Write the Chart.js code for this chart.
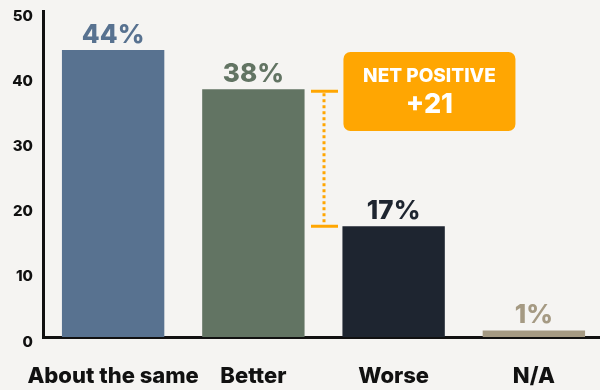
<!DOCTYPE html>
<html>
<head>
<meta charset="utf-8">
<script src="https://cdn.jsdelivr.net/npm/chart.js@4/dist/chart.umd.min.js"></script>
<style>
  html, body { margin: 0; padding: 0; background: #f5f4f2; overflow: hidden; }
  #wrap { width: 604px; height: 390px; }
</style>
</head>
<body>
<div id="wrap"><canvas id="survey-chart"></canvas></div>
<script>
// data
var categories = ['About the same', 'Better', 'Worse', 'N/A'];
var shares = [44, 38, 17, 1];
var barColors = ['#587290', '#627463', '#1e2530', '#a59a83'];
var yMax = 50;
var yStep = 10;
var netTitle = 'NET POSITIVE';

var FONT = 'Inter, "DejaVu Sans", sans-serif';
var ORANGE = '#ffa602';

// percent labels above each bar, same colour as the bar
var valueLabels = {
    id: 'valueLabels',
    afterDatasetsDraw: function (chart) {
        var ctx = chart.ctx;
        var meta = chart.getDatasetMeta(0);
        ctx.save();
        ctx.font = '800 26px ' + FONT;
        ctx.textAlign = 'center';
        ctx.textBaseline = 'alphabetic';
        for (var i = 0; i < meta.data.length; i++) {
            var bar = meta.data[i];
            ctx.fillStyle = barColors[i];
            ctx.fillText(shares[i] + '%', bar.x, bar.y - 7);
        }
        ctx.restore();
    }
};

// dotted bracket between Better and Worse plus the orange callout box
var netBracket = {
    id: 'netBracket',
    afterDatasetsDraw: function (chart) {
        var ctx = chart.ctx;
        var yScale = chart.scales.y;
        var meta = chart.getDatasetMeta(0);
        var better = meta.data[1];
        var worse = meta.data[2];
        var x = Math.round((better.x + better.width / 2 + worse.x - worse.width / 2) / 2);
        var yTop = yScale.getPixelForValue(shares[1]);
        var yBot = yScale.getPixelForValue(shares[2]);

        ctx.save();
        ctx.strokeStyle = ORANGE;
        ctx.lineWidth = 3;
        ctx.setLineDash([3, 3]);
        ctx.beginPath();
        ctx.moveTo(x, yTop + 4);
        ctx.lineTo(x, yBot - 2);
        ctx.stroke();
        ctx.setLineDash([]);
        ctx.beginPath();
        ctx.moveTo(x - 13, yTop + 2);
        ctx.lineTo(x + 14, yTop + 2);
        ctx.moveTo(x - 13, yBot);
        ctx.lineTo(x + 14, yBot);
        ctx.stroke();

        // callout box
        var bx = worse.x - worse.width / 2 + 1;
        var by = 52;
        var bw = 172;
        var bh = 79;
        ctx.fillStyle = ORANGE;
        ctx.beginPath();
        ctx.roundRect(bx, by, bw, bh, 7);
        ctx.fill();

        ctx.fillStyle = '#ffffff';
        ctx.textAlign = 'center';
        ctx.textBaseline = 'middle';
        ctx.font = '800 19px ' + FONT;
        ctx.fillText(netTitle, bx + bw / 2, by + 24);
        ctx.font = '800 27px ' + FONT;
        ctx.fillText('+' + (shares[1] - shares[2]), bx + bw / 2, by + 53);
        ctx.restore();
    }
};

var ctx = document.getElementById('survey-chart');

var surveyChart = new Chart(ctx, {
    type: 'bar',
    data: {
        labels: categories,
        datasets: [{
            data: shares,
            backgroundColor: barColors,
            borderWidth: 0,
            categoryPercentage: 1,
            barPercentage: 0.73
        }]
    },
    options: {
        responsive: true,
        maintainAspectRatio: false,
        animation: false,
        events: [],
        layout: { padding: { top: 11, right: 0, bottom: 0, left: 0 } },
        plugins: {
            legend: { display: false },
            tooltip: { enabled: false }
        },
        scales: {
            x: {
                grid: { display: false, drawTicks: false },
                border: { display: true, color: '#111111', width: 3 },
                ticks: {
                    color: '#111111',
                    font: { family: FONT, size: 22, weight: '800' },
                    padding: 26,
                    maxRotation: 0,
                    autoSkip: false
                },
                afterFit: function (scale) {
                    scale.height = 53;
                    scale.paddingLeft = 0;
                    scale.paddingRight = 0;
                }
            },
            y: {
                min: 0,
                max: yMax,
                grid: { display: false, drawTicks: false },
                border: { display: true, color: '#111111', width: 3 },
                ticks: {
                    stepSize: yStep,
                    color: '#111111',
                    font: { family: FONT, size: 15, weight: '800' },
                    padding: 10,
                    labelOffset: 5
                },
                afterFit: function (scale) {
                    scale.width = 43;
                    scale.paddingTop = 0;
                    scale.paddingBottom = 0;
                }
            }
        }
    },
    plugins: [valueLabels, netBracket]
});
</script>
</body>
</html>
